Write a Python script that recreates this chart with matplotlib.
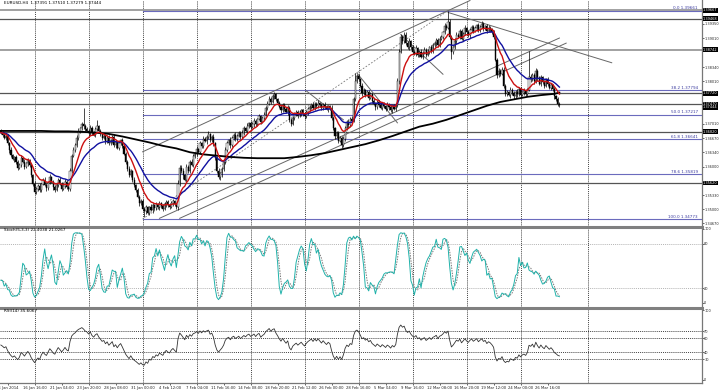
import numpy as np
import pandas as pd
import matplotlib
matplotlib.use("Agg")
import matplotlib.pyplot as plt
import matplotlib.transforms as mtrans

# EURUSD H4, closes in pips above 1.3000
closes = [680, 675, 668, 672, 655, 640, 628, 618, 622,
          610, 598, 605, 620, 612, 600, 608, 615, 603,
          580, 560, 540, 548,
          555, 545, 560, 570, 558, 550, 562, 575, 565, 552, 545, 558, 570, 560, 548, 555, 565, 553, 548,
          590, 625, 640, 650,
          668, 682, 690, 700, 695, 688,
          685, 678, 692, 680, 674, 688, 695, 684,
          676, 668, 672, 660, 668, 655, 662, 670, 650, 658, 645, 655, 662, 648,
          630, 610, 595, 580, 590, 570, 556, 545,
          530, 515, 520, 500, 495, 505, 492,
          505, 498, 510, 503, 512, 505, 515, 508, 502, 512, 518, 510, 506, 515, 520, 512, 505,
          560, 598, 590,
          580, 570, 600, 590, 612, 605, 625,
          630, 642, 635, 655, 648, 665, 660, 670, 676, 662, 670, 655,
          620, 590, 575, 585, 595, 610,
          640, 655, 662, 650, 668, 675, 665, 672, 680, 670,
          680, 690, 685, 696, 702, 694, 700, 708, 700, 712, 718, 706, 715, 722,
          738, 748, 760, 752, 765, 770, 758, 750,
          740, 732, 745, 736, 728, 738,
          710, 700,
          715, 722, 728, 720, 726, 732, 724, 718, 728, 735,
          740, 745, 738, 748, 742, 750, 744, 738, 746, 740, 735, 742, 738,
          715, 690, 672, 680, 660, 668, 650, 665,
          690, 705, 698, 712, 708,
          760, 800, 812, 805,
          790, 772, 780, 768, 775, 762, 770,
          755, 748, 740, 752, 745, 738, 748, 742, 735, 745, 740, 732, 742, 736, 745,
          800, 870, 905,
          895, 910, 890, 880, 895,
          880, 870, 865, 878, 862, 870, 858, 868, 875, 862, 870, 880, 872, 885,
          890, 898, 885, 900,
          905, 915, 930, 925, 940,
          905, 870, 880,
          895, 910, 905, 918, 900, 912, 925, 915, 908, 920, 928, 918,
          925, 932, 920, 928, 935, 925, 930, 918, 926, 922, 915, 905,
          850, 815,
          825, 818, 828,
          790, 770,
          775, 768, 780, 772, 765, 776, 770, 782, 768, 775, 778, 770, 780,
          810, 805,
          815, 800, 825, 808, 795, 810,
          798, 790, 805, 795, 785, 792, 782,
          765, 758, 748, 744]
first_open = 684

up_wick = [5, 4, 6, 3, 5, 4, 7, 3, 4, 6, 5, 3, 8, 4, 5, 3, 6, 4, 5, 3,
           6, 4, 5, 7, 3, 4, 6, 5, 3, 8, 4, 5, 6, 3, 4, 7, 5, 3, 6, 4,
           5, 6, 4, 7, 5, 6, 8, 4, 5, 38, 6, 5, 4, 7, 3, 5, 6, 15, 4, 5,
           3, 6, 4, 5, 7, 3, 4, 6, 5, 3, 6, 4, 5, 3, 4, 5, 6, 4, 3, 5,
           4, 6, 3, 5, 4, 5, 6, 3, 4, 7, 5, 3, 6, 4, 5, 3, 4, 6, 5, 3,
           6, 4, 5, 3, 4, 8, 6, 5, 7, 4, 6, 5, 4, 7, 5, 4, 6, 3, 5, 4,
           6, 5, 4, 7, 3, 5, 6, 4, 5, 6, 3, 5, 4, 6, 5, 4, 7, 3, 5, 6,
           4, 5, 3, 6, 5, 4, 7, 3, 5, 4, 6, 5, 3, 6, 4, 5, 7, 4, 6, 5,
           4, 6, 5, 4, 3, 5, 6, 4, 5, 3, 6, 4, 5, 3, 6, 4, 5, 7, 3, 4,
           5, 6, 4, 5, 3, 7, 4, 5, 6, 3, 5, 4, 6, 5, 3, 4, 6, 5, 4, 3,
           5, 4, 3, 6, 5, 4, 6, 5, 7, 4, 20, 6, 5, 4, 7, 5, 3, 6, 4, 5,
           4, 6, 3, 5, 4, 6, 5, 3, 4, 6, 5, 4, 3, 6, 5, 8, 6, 7, 5, 6,
           5, 4, 6, 3, 5, 4, 7, 3, 5, 6, 4, 5, 3, 6, 4, 5, 6, 4, 5, 3,
           6, 5, 4, 7, 5, 26, 6, 5, 4, 6, 5, 3, 6, 4, 5, 7, 3, 5, 6, 4,
           5, 6, 3, 5, 4, 6, 5, 3, 4, 6, 5, 4, 6, 3, 5, 7, 4, 5, 6, 4,
           5, 3, 6, 4, 5, 3, 6, 4, 5, 3, 6, 4, 5, 62, 8, 6, 5, 7, 4, 5,
           6, 4, 5, 3, 6, 4, 5, 3, 6, 4, 5, 3]
dn_wick = [4, 6, 3, 5, 4, 7, 5, 3, 6, 4, 5, 3, 6, 4, 5, 3, 7, 4, 5, 6,
           5, 3, 6, 4, 5, 3, 4, 6, 5, 3, 4, 6, 5, 3, 6, 4, 5, 3, 4, 5,
           6, 4, 5, 3, 6, 4, 5, 3, 4, 6, 5, 3, 6, 4, 5, 3, 4, 5, 6, 4,
           5, 3, 6, 4, 5, 3, 6, 4, 5, 3, 6, 4, 5, 3, 4, 6, 5, 3, 6, 4,
           5, 3, 6, 4, 5, 12, 6, 4, 5, 3, 6, 4, 5, 3, 6, 4, 5, 3, 6, 4,
           5, 3, 6, 4, 5, 6, 5, 4, 8, 3, 6, 4, 5, 3, 6, 4, 5, 3, 6, 4,
           5, 3, 6, 4, 5, 3, 6, 4, 5, 3, 6, 8, 5, 3, 6, 4, 5, 3, 6, 4,
           5, 3, 6, 4, 5, 3, 6, 4, 5, 3, 6, 4, 5, 3, 6, 4, 5, 3, 6, 4,
           5, 3, 6, 4, 5, 3, 6, 4, 5, 3, 6, 4, 5, 3, 6, 4, 5, 3, 6, 4,
           5, 3, 6, 4, 5, 3, 6, 4, 5, 3, 6, 4, 5, 3, 6, 4, 5, 3, 6, 4,
           5, 3, 5, 4, 5, 3, 6, 4, 5, 3, 6, 4, 5, 3, 6, 4, 5, 3, 6, 4,
           5, 3, 6, 4, 5, 3, 6, 4, 5, 3, 6, 4, 5, 3, 6, 4, 5, 3, 6, 4,
           5, 3, 6, 4, 5, 3, 6, 4, 5, 3, 6, 4, 5, 3, 6, 4, 5, 3, 6, 4,
           5, 3, 6, 4, 5, 3, 6, 18, 5, 3, 6, 4, 5, 3, 6, 4, 5, 3, 6, 4,
           5, 3, 6, 4, 5, 3, 6, 4, 5, 3, 6, 4, 5, 3, 6, 4, 5, 3, 6, 4,
           5, 3, 6, 4, 5, 3, 6, 4, 5, 3, 6, 4, 5, 3, 6, 4, 5, 3, 6, 4,
           5, 3, 6, 4, 5, 3, 6, 4, 5, 3, 6, 4]

# 200 MA (black), read every 8 bars
ma200_bars = list(range(0, 329, 8)) + [331]
ma200_vals = [684, 684, 684, 684, 683, 683, 682, 680, 677, 671, 664, 657, 649, 643, 634,
              629, 626, 623, 621, 620, 620, 620, 623, 627, 632, 639, 646, 653, 662, 672,
              683, 694, 701, 710, 721, 732, 743, 752, 758, 764, 768, 771, 774]

# horizontal lines and their price tags
hlines_dark = [1.39468, 1.37720, 1.37470, 1.36820, 1.35620]
hlines_light = [1.39667, 1.38742]
last_price = 1.37444

# fibonacci retracement
fib_levels = ["0.0", "38.2", "50.0", "61.8", "78.6", "100.0"]
fib_prices = [1.39661, 1.37794, 1.37217, 1.36641, 1.35819, 1.34773]
fib_start = 84
fib_high_bar = 265

# trend lines: (bar0, price0, bar1, price1)
trendlines = [
    (84, 1.36350, 278, 1.39900),
    (94, 1.34790, 331, 1.39020),
    (106, 1.34790, 335, 1.38900),
    (265, 1.39620, 362, 1.38440),
    (181, 1.37780, 203, 1.37100),
    (211, 1.38200, 235, 1.37030),
    (237, 1.39100, 262, 1.38170),
]

# visible price-scale labels (the others sit under the price tags)
price_ticks = [1.34670, 1.35000, 1.35330, 1.36000, 1.36340, 1.36670, 1.37010,
               1.38010, 1.38340, 1.39010, 1.39350]

date_labels = ["14 Jan 2014", "16 Jan 16:00", "21 Jan 04:00", "23 Jan 20:00", "28 Jan 08:00",
               "31 Jan 00:00", "4 Feb 12:00", "7 Feb 04:00", "11 Feb 16:00", "14 Feb 08:00",
               "18 Feb 20:00", "21 Feb 12:00", "26 Feb 00:00", "28 Feb 16:00", "5 Mar 04:00",
               "9 Mar 16:00", "12 Mar 08:00", "16 Mar 20:00", "19 Mar 12:00", "24 Mar 00:00",
               "26 Mar 16:00"]

FS = 3.0      # panel texts
AFS = 2.55    # right price scale
to_price = lambda v: 1.3 + np.asarray(v, dtype=float) / 10000

c = np.array(closes, dtype=float)
o = np.array([first_open] + closes[:-1], dtype=float)
h = np.maximum(o, c) + np.array(up_wick)
l = np.minimum(o, c) - np.array(dn_wick)
x = np.arange(len(c))

fig = plt.figure(figsize=(7.2, 3.9), dpi=100)
W = 702 / 720
ax1 = fig.add_axes([0, 1 - 227 / 390, W, 227 / 390])
ax2 = fig.add_axes([0, 1 - 308 / 390, W, 81 / 390], sharex=ax1)
ax3 = fig.add_axes([0, 1 - 383 / 390, W, 75 / 390], sharex=ax1)
ax1.set_xlim(-0.5, 415.5)
ax1.set_ylim(1.34586, 1.39912)
ax2.set_ylim(-6.8, 102.7)
ax3.set_ylim(-4.3, 102.9)

tick_bars = [4 + 16 * k for k in range(len(date_labels))]
grid_bars = tick_bars[1::2][:10] + [348]

for ax in (ax1, ax2, ax3):
    for s in ("left", "top", "bottom"):
        ax.spines[s].set_visible(False)
    ax.spines["right"].set_color("#777777")
    ax.spines["right"].set_linewidth(0.9)
    ax.yaxis.tick_right()
    ax.tick_params(axis="y", labelsize=AFS, length=1.2, width=0.5, pad=0.4, colors="#222222")
    ax.tick_params(axis="x", bottom=False, labelbottom=False)
    for gb in grid_bars:
        ax.axvline(gb, color="black", ls=(0, (1.5, 1.5)), lw=0.5, zorder=0)
for ax in (ax2, ax3):
    ax.spines["top"].set_visible(True)
    ax.spines["top"].set_color("#808080")
    ax.spines["top"].set_linewidth(2.2)
ax3.spines["bottom"].set_visible(True)
ax3.spines["bottom"].set_color("#777777")
ax3.spines["bottom"].set_linewidth(0.9)

# ---- main panel ----
for p in hlines_light:
    ax1.axhline(p, color="#9a9a9a", lw=1.3, zorder=1)
for p in hlines_dark:
    ax1.axhline(p, color="#555555", lw=0.9, zorder=1)
for lv, p in zip(fib_levels, fib_prices):
    ax1.plot([fib_start, 415.5], [p, p], color="#6b6bbd", lw=0.8, zorder=1)
    ax1.text(413, p + 0.00012, f"{lv} {p:.5f}", fontsize=FS, color="#3c3ca0",
             ha="right", va="bottom")
ax1.plot([fib_start, fib_high_bar], [fib_prices[-1], fib_prices[0]],
         color="#777777", ls=(0, (2, 2)), lw=0.6, zorder=1)
for b0, p0, b1, p1 in trendlines:
    ax1.plot([b0, b1], [p0, p1], color="#666666", lw=0.7, zorder=1)

ax1.vlines(x, to_price(l), to_price(h), color="black", lw=0.5, zorder=3)
bull = c >= o
body = np.maximum(np.abs(c - o), 0.6)
ax1.bar(x[bull], body[bull] / 10000, bottom=to_price(o[bull]), width=0.7,
        color="white", edgecolor="black", lw=0.3, zorder=4)
ax1.bar(x[~bull], body[~bull] / 10000, bottom=to_price(c[~bull]), width=0.7,
        color="black", edgecolor="black", lw=0.3, zorder=4)

cs = pd.Series(c)
ax1.plot(x, to_price(cs.ewm(span=24, adjust=False).mean()), color="#1010a0", lw=1.0, zorder=5)
ax1.plot(x, to_price(cs.ewm(span=10, adjust=False).mean()), color="#cc1010", lw=1.0, zorder=6)
ax1.plot(ma200_bars, to_price(ma200_vals), color="black", lw=1.3, zorder=5)

ax1.set_yticks(price_ticks)
ax1.set_yticklabels([f"{t:.5f}" for t in price_ticks])
trans1 = mtrans.blended_transform_factory(ax1.transAxes, ax1.transData)
for p in hlines_light + hlines_dark:
    ax1.text(1.0015, p, f"{p:.5f}", transform=trans1, fontsize=AFS, color="white",
             va="center", ha="left", zorder=10, clip_on=False,
             bbox=dict(facecolor="black", edgecolor="none", pad=0.3))
ax1.text(1.0015, last_price - 0.00045, f"{last_price:.5f}", transform=trans1, fontsize=AFS,
         color="white", va="center", ha="left", zorder=10, clip_on=False,
         bbox=dict(facecolor="black", edgecolor="none", pad=0.3))
ax1.text(2, 1.39885, "EURUSD,H4  1.37391 1.37510 1.37279 1.37444", fontsize=FS,
         color="black", va="top", ha="left")

# ---- stochastic (5,3,3) ----
hs, ls_ = pd.Series(h), pd.Series(l)
hh = hs.rolling(5, min_periods=1).max()
ll = ls_.rolling(5, min_periods=1).min()
k = 100 * (cs - ll).rolling(3, min_periods=1).sum() / (hh - ll).rolling(3, min_periods=1).sum()
d = k.rolling(3, min_periods=1).mean()
for lvl in (20, 80):
    ax2.axhline(lvl, color="#999999", ls=(0, (1.5, 1.5)), lw=0.5)
ax2.plot(x, d, color="#777777", ls=(0, (1.5, 1.2)), lw=0.7)
ax2.plot(x, k, color="#20b2aa", lw=0.7)
ax2.set_yticks([0, 20, 80, 100])
ax2.text(2, 101, "Stoch(5,3,3) 22.4038 21.0267", fontsize=FS, va="top", ha="left")

# ---- RSI(14), Wilder smoothing seeded at a neutral level ----
delta = np.diff(c, prepend=c[0])
avg_g, avg_l = 6.0, 6.0
rsi = []
for dlt in delta:
    avg_g = (avg_g * 13 + max(dlt, 0)) / 14
    avg_l = (avg_l * 13 + max(-dlt, 0)) / 14
    rsi.append(100 - 100 / (1 + avg_g / avg_l))
for lvl in (30, 40, 60, 70):
    ax3.axhline(lvl, color="black", ls=(0, (1.5, 1.5)), lw=0.5)
ax3.plot(x, rsi, color="#333333", lw=0.6)
ax3.set_yticks([0, 30, 40, 60, 70, 100])
ax3.text(2, 101, "RSI(14) 35.6067", fontsize=FS, va="top", ha="left")

ax3.set_xticks(tick_bars)
ax3.set_xticklabels(date_labels)
ax3.tick_params(axis="x", bottom=True, labelbottom=True, labelsize=2.7, length=1.5,
                width=0.5, pad=0.5, colors="#222222")

fig.savefig("out.png", dpi=100, facecolor="white")
